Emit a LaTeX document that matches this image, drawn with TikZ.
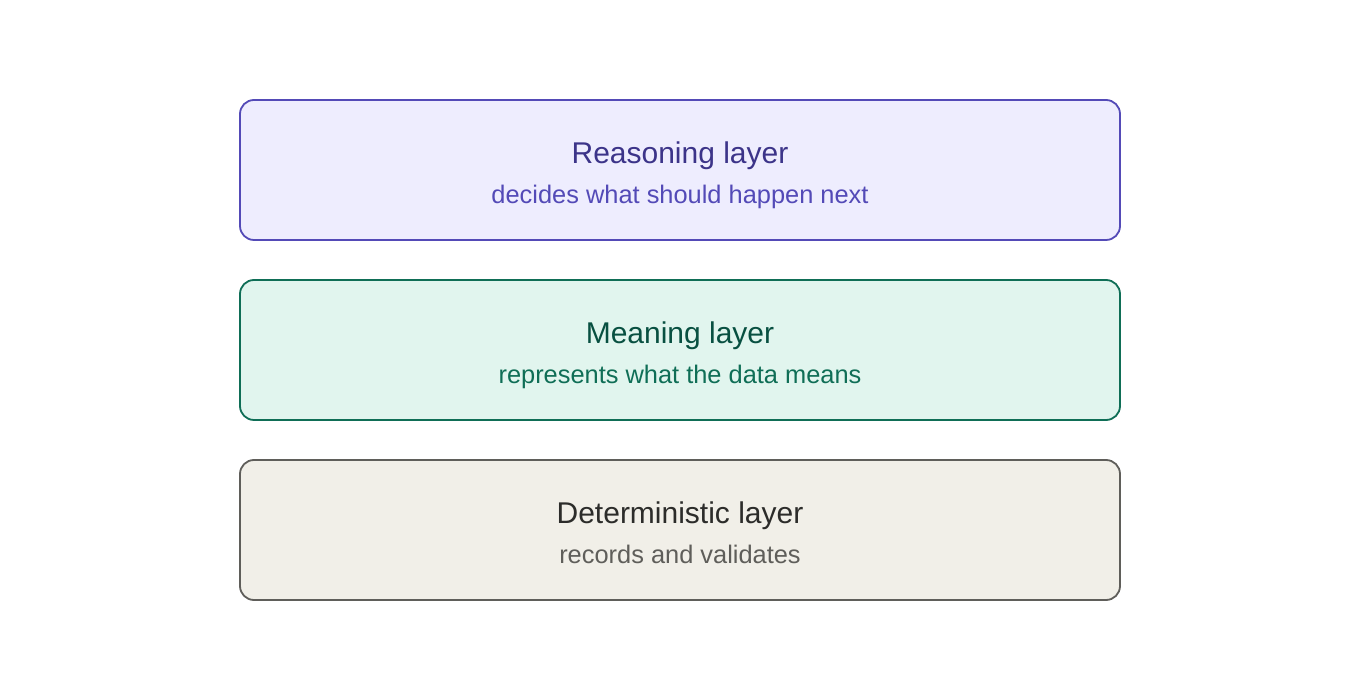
\documentclass[tikz,border=0pt]{standalone}
\usepackage{fontspec}
\setmainfont{Liberation Sans}
\usepackage{tikz}
\usetikzlibrary{positioning}

\definecolor{reasonfill}{HTML}{EEEDFE}
\definecolor{reasondraw}{HTML}{534AB7}
\definecolor{reasontext}{HTML}{3C3489}
\definecolor{meaningfill}{HTML}{E1F5EE}
\definecolor{meaningdraw}{HTML}{0F6E56}
\definecolor{meaningtext}{HTML}{085041}
\definecolor{detfill}{HTML}{F1EFE8}
\definecolor{detdraw}{HTML}{5F5E5A}
\definecolor{dettext}{HTML}{2C2C2A}

\begin{document}
\begin{tikzpicture}[x=0.5pt,y=0.5pt,
    layer/.style={draw, line width=0.9pt, rounded corners=7pt, minimum width=440pt, minimum height=70pt, inner sep=0pt},
    title/.style={anchor=base, font=\fontsize{15pt}{18pt}\selectfont, inner sep=0pt},
    subtitle/.style={anchor=base, font=\fontsize{12.7pt}{15pt}\selectfont, inner sep=0pt}]
            \useasboundingbox (0,0) rectangle (1360,680);

            % reasoning layer
            \node[layer, fill=reasonfill, draw=reasondraw] (reasoning) at (680,510) {};
            \node[title, text=reasontext] (reasoningtitle) at ([yshift=3pt]reasoning.center) {Reasoning layer};
            \node[subtitle, text=reasondraw] (reasoningsub) at ([yshift=-17pt]reasoning.center) {decides what should happen next};

            % meaning layer
            \node[layer, fill=meaningfill, draw=meaningdraw] (meaning) at (680,330) {};
            \node[title, text=meaningtext] (meaningtitle) at ([yshift=3pt]meaning.center) {Meaning layer};
            \node[subtitle, text=meaningdraw] (meaningsub) at ([yshift=-17pt]meaning.center) {represents what the data means};

            % deterministic layer
            \node[layer, fill=detfill, draw=detdraw] (deterministic) at (680,150) {};
            \node[title, text=dettext] (deterministictitle) at ([yshift=3pt]deterministic.center) {Deterministic layer};
            \node[subtitle, text=detdraw] (deterministicsub) at ([yshift=-17pt]deterministic.center) {records and validates};
        \end{tikzpicture}
\end{document}
